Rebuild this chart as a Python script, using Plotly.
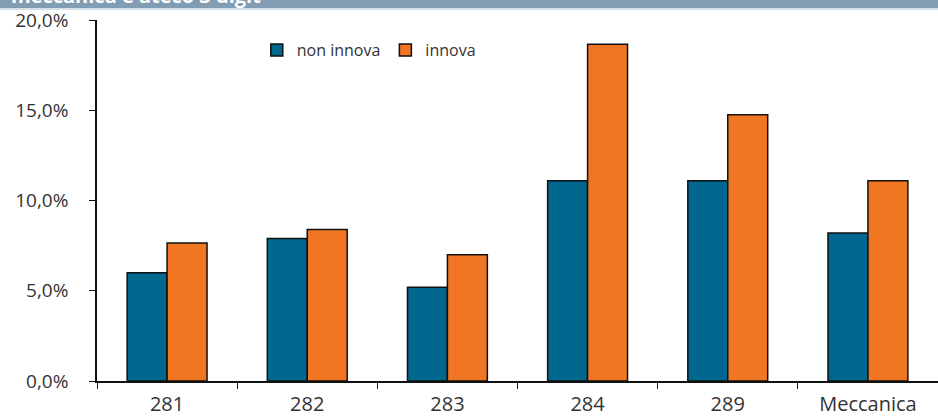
import plotly.graph_objects as go

# dati (quota %)
categorie = ["281", "282", "283", "284", "289", "Meccanica"]
non_innova = [6.0, 7.9, 5.2, 11.1, 11.1, 8.2]
innova = [7.65, 8.4, 7.0, 18.65, 14.75, 11.1]
y_ticks = [0, 5, 10, 15, 20]
y_labels = ["0,0%", "5,0%", "10,0%", "15,0%", "20,0%"]

blu = "#00678f"
arancio = "#f07624"

T, B = 20, 381  # bordo alto / basso dell'area del grafico (px)
H = B - T

fig = go.Figure()
fig.add_trace(go.Bar(x=categorie, y=non_innova, name="non innova",
                     marker=dict(color=blu, line=dict(color="#111111", width=1.5))))
fig.add_trace(go.Bar(x=categorie, y=innova, name="innova",
                     marker=dict(color=arancio, line=dict(color="#111111", width=1.5))))

fig.update_layout(
    width=938, height=416,
    margin=dict(l=97, r=0, t=T, b=416 - B, autoexpand=False),
    paper_bgcolor="white", plot_bgcolor="white",
    barmode="group", bargap=0.43, bargroupgap=0,
    separators=",.",
    font=dict(family="Open Sans", size=19, color="#333333"),
    showlegend=True,
    legend=dict(orientation="h", x=0.19, y=(B - 50) / H, xanchor="left", yanchor="middle",
                bgcolor="rgba(0,0,0,0)", font=dict(size=16, color="#333333"),
                tracegroupgap=0),
)

fig.update_xaxes(
    type="category", tickson="boundaries", ticks="outside", ticklen=6,
    tickcolor="#111111", showline=True, linecolor="#111111", linewidth=1.5,
    showgrid=False, range=[-0.5, 5.5], automargin=False, ticklabelstandoff=4,
    tickfont=dict(size=20),
)
fig.update_yaxes(
    range=[0, 20], tickvals=y_ticks, ticktext=y_labels,
    ticks="outside", ticklen=6, tickcolor="#111111", showline=True,
    linecolor="#111111", linewidth=1.5, showgrid=False, zeroline=False,
    automargin=False, ticklabelstandoff=17,
)

# banda del titolo tagliata in alto
fig.add_shape(type="rect", xref="paper", yref="paper", x0=-0.2, x1=1.01,
              y0=1 + (T - 8) / H, y1=1 + (T + 5) / H,
              fillcolor="#819db3", line_width=0, layer="above")
fig.add_shape(type="rect", xref="paper", yref="paper", x0=-0.2, x1=1.01,
              y0=1 + (T - 10) / H, y1=1 + (T - 8) / H,
              fillcolor="#d6e0e8", line_width=0, layer="above")
fig.add_annotation(xref="paper", yref="paper", x=-0.105, y=1 + (T + 5) / H,
                   xanchor="left", yanchor="middle", showarrow=False,
                   text="<b>meccanica e ateco 3 digit</b>",
                   font=dict(color="white", size=20, family="Open Sans"))

# togli il margine di default della pagina
fig.write_html("out.html", config={"displayModeBar": False},
               post_script="document.body.style.margin='0px';")
